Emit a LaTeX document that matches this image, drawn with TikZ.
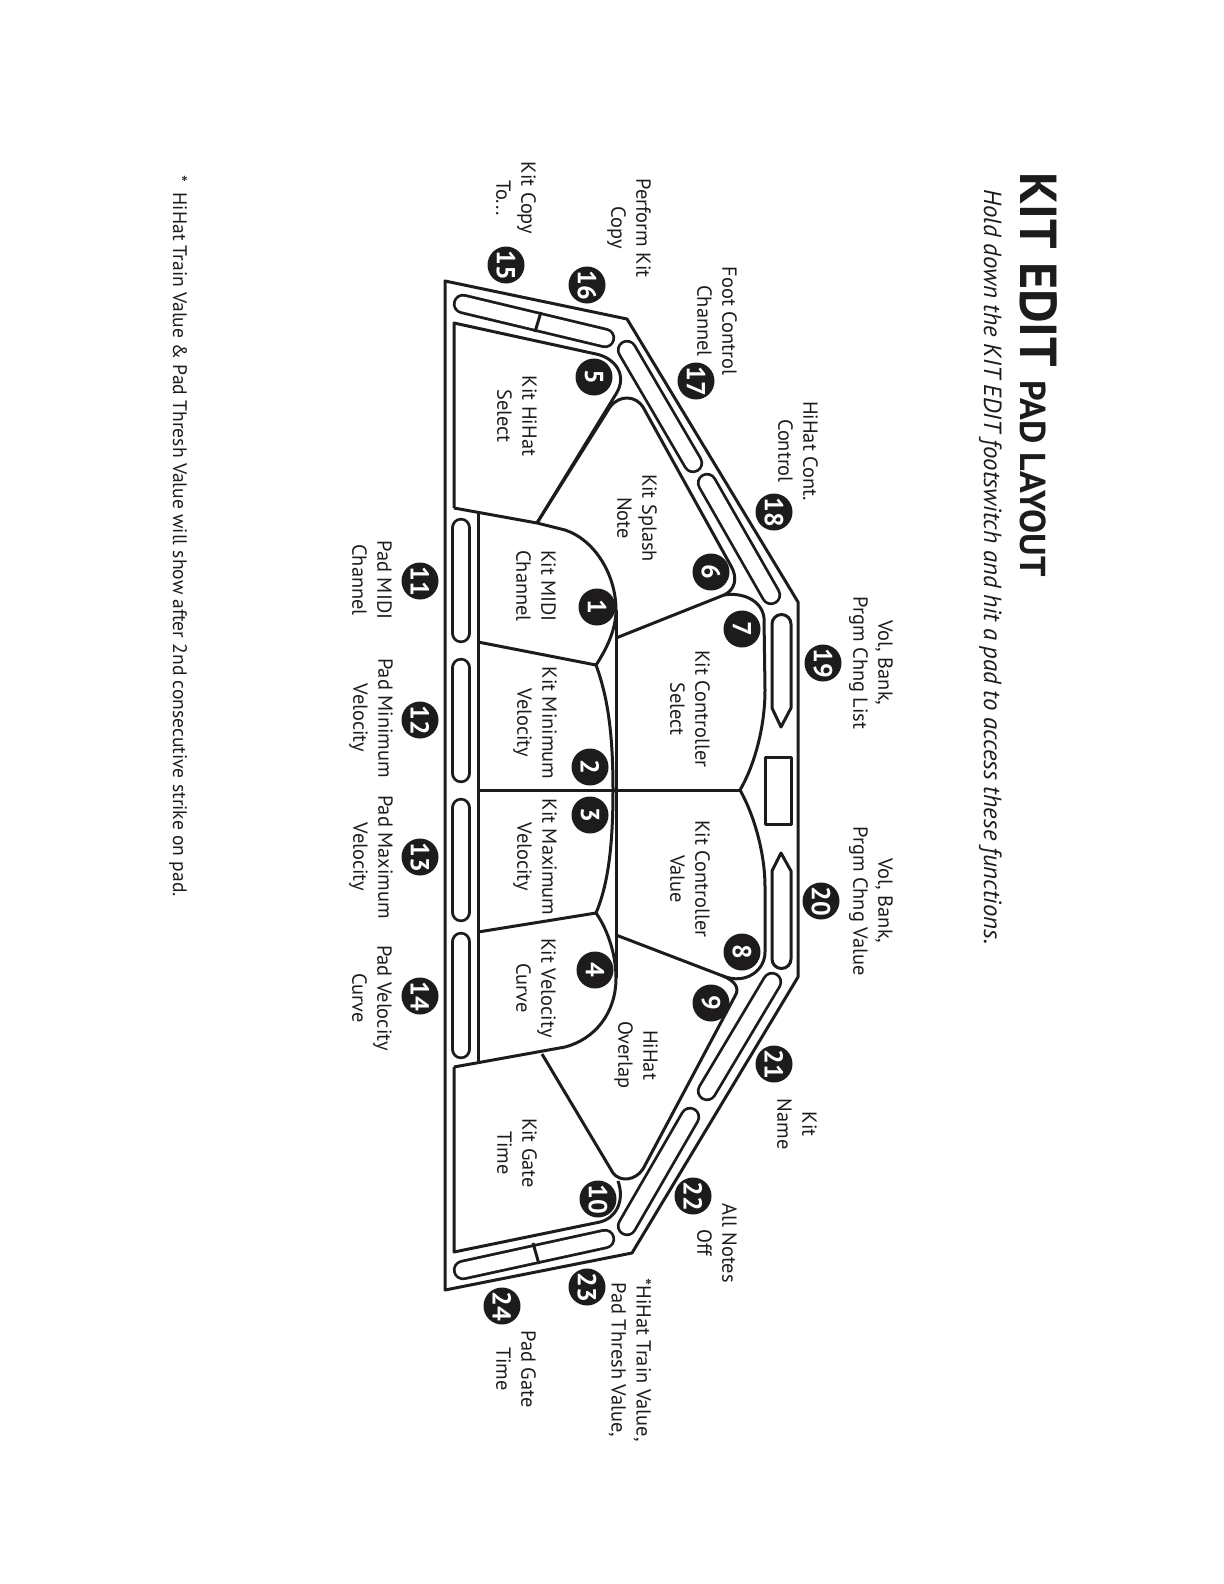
\documentclass[tikz,border=0pt]{standalone}
\usepackage{fontspec}
\setmainfont{PT Sans}
\definecolor{ink}{RGB}{30,27,28}
\tikzset{
  padline/.style={draw=ink, line width=1.5pt, line join=round},
  stripbar/.style={draw=ink, line width=1.4pt, double=white, double distance=7.4pt, line cap=round},
  badge/.style={circle, fill=ink, text=white, font=\bfseries\fontsize{13}{13}\selectfont, minimum size=18.5pt, inner sep=0pt, rotate=-90},
  padlabel/.style={align=center, text=ink, rotate=-90, font=\fontsize{10.2}{12.5}\selectfont}
}
\begin{document}
\begin{tikzpicture}[x=0.5pt, y=-0.5pt]
\useasboundingbox (0,0) rectangle (1224,1584);
% outer frame
\draw[padline] (445,281) -- (627,319) -- (798,602) -- (798,977) -- (632,1253) -- (445,1290) -- cycle;
% side pads
\draw[padline] (454,508) -- (454,323) -- (596,354) .. controls (615,358) and (628,375) .. (616,394) -- (537,523);
\draw[padline] (454,1067) -- (454,1252) -- (600,1222) .. controls (616,1218) and (625,1201) .. (618,1181);
\draw[padline] (537,523) -- (610,407) .. controls (620,394) and (636,396) .. (643,407) -- (731,566) .. controls (738,578) and (735,590) .. (724,595) -- (616,638);
\draw[padline] (616,935) -- (723,976) .. controls (735,981) and (740,988) .. (735,996) -- (643,1169) .. controls (635,1181) and (620,1182) .. (613,1173) -- (542,1054);
% controller pads
\draw[padline] (724,595) .. controls (742,592) and (762,600) .. (764,618) -- (765,690) .. controls (765,730) and (753,768) .. (740,790) .. controls (753,813) and (765,851) .. (765,887) -- (765,952) .. controls (765,971) and (745,985) .. (723,976);
% kit pads
\draw[padline] (454,508) -- (537,523) -- (565,530) .. controls (595,540) and (616,575) .. (616,610) .. controls (616,630) and (606,650) .. (596,665) -- (478,642);
\draw[padline] (596,665) .. controls (607,695) and (613,730) .. (613,790) .. controls (613,851) and (607,887) .. (596,913) -- (478,932);
\draw[padline] (596,913) .. controls (606,927) and (616,952) .. (616,978) .. controls (616,1013) and (595,1039) .. (565,1047) -- (454,1067);
\draw[padline] (478,513) -- (478,1061);
\draw[padline] (478,790) -- (740,790);
\draw[padline] (616,610) -- (616,978);
% rim bars
\foreach \xa/\ya/\xb/\yb in {463/304/605/338, 627/350/693/463, 707/483/771/595, 772/982/707/1091, 690/1117/627/1226, 605/1239/463/1270, 461/528/461/633, 461/668/461/773, 461/808/461/912, 461/942/461/1049}
  \draw[stripbar] (\xa,\ya) -- (\xb,\yb);
\draw[padline] (541,312) -- (535,332);
\draw[padline] (533,1243) -- (539,1264);
\draw[padline] (781,727) -- (772,708) -- (772,624) arc (180:360:9.5) -- (791,708) -- cycle;
\draw[padline] (765,757) rectangle (791,824);
\draw[padline] (781,853) -- (772,871) -- (772,959) arc (180:0:9.5) -- (791,871) -- cycle;
% numbers
\foreach \n/\x/\y in {1/597/607, 2/590/767, 3/590/815, 4/595/970, 5/594/377, 6/711/572, 7/742/629, 8/742/952, 9/711/1003, 10/598/1199, 11/420/581, 12/420/720, 13/420/857, 14/420/996, 15/506/265, 16/587/285, 17/696/381, 18/774/512, 19/823/663, 20/821/901, 21/774/1064, 22/693/1196, 23/587/1287, 24/502/1306}
  \node[badge] (badge\n) at (\x,\y) {\n};
% pad names
\foreach \i/\txt/\x/\y in {
  hihatsel/{Kit HiHat\\Select}/517/416,
  splash/{Kit Splash\\Note}/637/518,
  kitmidi/{Kit MIDI\\Channel}/536/586,
  kitmin/{Kit Minimum\\Velocity}/535/723,
  kitmax/{Kit Maximum\\Velocity}/535/857,
  kitcurve/{Kit Velocity\\Curve}/536/988,
  ctrlsel/{Kit Controller\\Select}/690/709,
  ctrlval/{Kit Controller\\Value}/690/879,
  overlap/{HiHat\\Overlap}/636/1055,
  gate/{Kit Gate\\Time}/517/1153,
  copy/{Kit Copy\\To...}/516/198,
  perform/{Perform Kit\\Copy}/629/228,
  foot/{Foot Control\\Channel}/717/321,
  hhcont/{HiHat Cont.\\Control}/798/451,
  chlist/{Vol, Bank,\\Prgm Chng List}/871/663,
  chvalue/{Vol, Bank,\\Prgm Chng Value}/871/901,
  kitname/{Kit\\Name}/797/1124,
  notesoff/{All Notes\\Off}/717/1243,
  train/{*HiHat Train Value,\\Pad Thresh Value,}/630/1360,
  padgate/{Pad Gate\\Time}/516/1369,
  padmidi/{Pad MIDI\\Channel}/372/580,
  padmin/{Pad Minimum\\Velocity}/371/718,
  padmax/{Pad Maximum\\Velocity}/371/857,
  padcurve/{Pad Velocity\\Curve}/372/998}
  \node[padlabel] (\i) at (\x,\y) {\txt};
% headings
\node[rotate=-90, anchor=base west, inner sep=0pt, text=ink, font=\bfseries\fontsize{26}{26}\selectfont] (title) at (1020,172) {KIT EDIT {\fontsize{18}{18}\selectfont PAD LAYOUT}};
\node[rotate=-90, anchor=base west, inner sep=0pt, text=ink, font=\itshape\fontsize{12.4}{14}\selectfont] (subtitle) at (984,189) {Hold down the KIT EDIT footswitch and hit a pad to access these functions.};
\node[rotate=-90, anchor=base west, inner sep=0pt, text=ink, font=\fontsize{9.8}{12}\selectfont] (footnote) at (173,175) {*\ \ HiHat Train Value \& Pad Thresh Value will show after 2nd consecutive strike on pad.};
\end{tikzpicture}
\end{document}
